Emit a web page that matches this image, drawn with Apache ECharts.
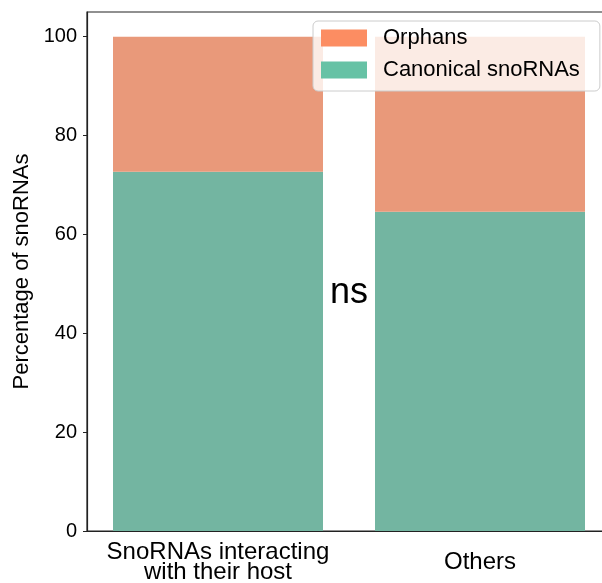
<!DOCTYPE html>
<html>
<head>
<meta charset="utf-8">
<script src="https://cdn.jsdelivr.net/npm/echarts@6/dist/echarts.min.js"></script>
<style>html,body{margin:0;padding:0;background:#fff}#c{width:602px;height:583px}</style>
</head>
<body>
<div id="c"></div>
<script>
const categories = ['SnoRNAs interacting\nwith their host', 'Others'];
const canonical = [72.7, 64.6];
const orphans = [27.3, 35.4];
const yTicks = [0, 20, 40, 60, 80, 100];
const annotation = 'ns';
const annotationY = 44.5;

const FONT = 'Liberation Sans, Arial, sans-serif';
const chart = echarts.init(document.getElementById('c'), null, {renderer: 'canvas'});
chart.setOption({
  animation: false,
  backgroundColor: '#fff',
  grid: {left: 87, width: 524, top: 12, height: 519, outerBoundsMode: 'none', containLabel: false,
    show: true, borderColor: '#222', borderWidth: 1.2},
  legend: {
    left: 313, top: 21,
    orient: 'vertical',
    itemWidth: 46, itemHeight: 17, itemGap: 10,
    padding: [6, 20, 10, 8],
    backgroundColor: 'rgba(255,255,255,0.8)',
    borderColor: '#cccccc', borderWidth: 1, borderRadius: 5,
    textStyle: {fontFamily: FONT, fontSize: 22, color: '#000', padding: [0, 0, 0, 11]},
    data: [
      {name: 'Orphans', icon: 'rect', itemStyle: {color: '#FC8D62'}},
      {name: 'Canonical snoRNAs', icon: 'rect', itemStyle: {color: '#66C2A5'}}
    ]
  },
  xAxis: {
    type: 'category',
    data: categories,
    axisLine: {lineStyle: {color: '#222', width: 1.2}},
    axisTick: {alignWithLabel: true, length: 4, lineStyle: {color: '#222'}},
    axisLabel: {fontFamily: FONT, fontSize: 24, color: '#000', lineHeight: 20, margin: 31, verticalAlign: 'middle', interval: 0}
  },
  yAxis: {
    type: 'value', min: 0, max: 105,
    name: 'Percentage of snoRNAs', nameLocation: 'middle', nameGap: 48,
    nameTextStyle: {fontFamily: FONT, fontSize: 22, color: '#000'},
    axisLine: {show: true, lineStyle: {color: '#222', width: 1.2}},
    axisTick: {show: true, length: 4, lineStyle: {color: '#222'}, customValues: yTicks},
    splitLine: {show: false},
    axisLabel: {fontFamily: FONT, fontSize: 20, color: '#000', margin: 10, customValues: yTicks}
  },
  series: [
    {name: 'Canonical snoRNAs', type: 'bar', stack: 'a', data: canonical, barWidth: 210,
      itemStyle: {color: '#73B5A1'}},
    {name: 'Orphans', type: 'bar', stack: 'a', data: orphans, barWidth: 210,
      itemStyle: {color: '#E9997A'}}
  ]
});
const p0 = chart.convertToPixel({xAxisIndex: 0, yAxisIndex: 0}, [0, annotationY]);
const p1 = chart.convertToPixel({xAxisIndex: 0, yAxisIndex: 0}, [1, annotationY]);
chart.setOption({
  graphic: [{type: 'text', x: (p0[0] + p1[0]) / 2, y: p0[1], z: 100,
    style: {text: annotation, fontFamily: FONT, fontSize: 36, fill: '#000', align: 'center', verticalAlign: 'bottom'}}]
});
</script>
</body>
</html>
